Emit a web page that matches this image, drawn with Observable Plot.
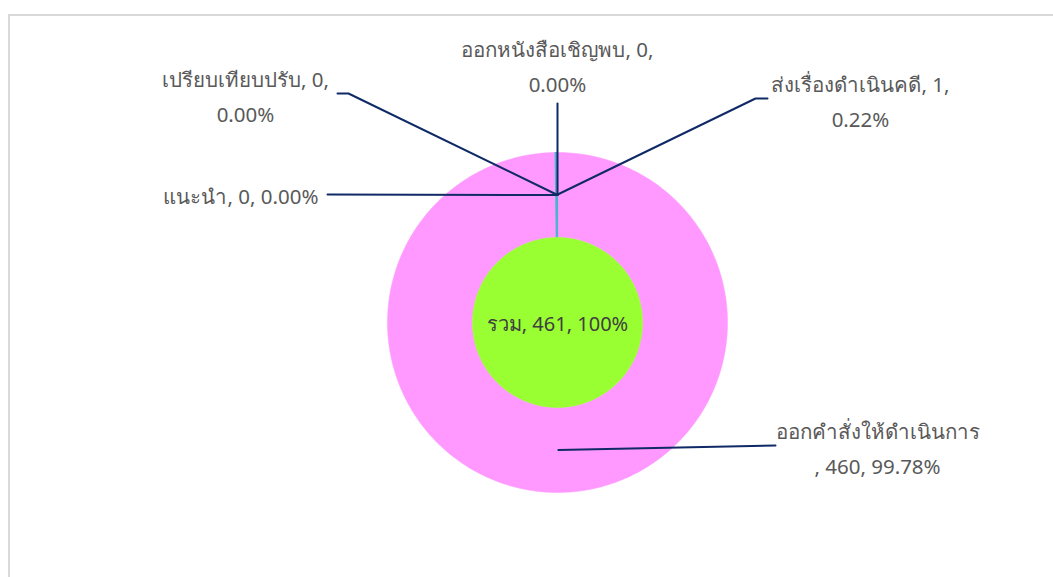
<!DOCTYPE html>
<html><head><meta charset="utf-8">
<script src="https://cdn.jsdelivr.net/npm/d3@7"></script>
<script src="https://cdn.jsdelivr.net/npm/@observablehq/plot@0.6"></script>
<style>
body{margin:0;background:#fff;}
#wrap{position:relative;width:1053px;height:577px;overflow:hidden;}
#border{position:absolute;left:8px;top:14px;width:1100px;height:600px;border-left:2px solid #d9d9d9;border-top:2px solid #d9d9d9;pointer-events:none;}
</style>
</head><body><div id="wrap"><div id="chart"></div><div id="border"></div></div>
<script>
// ---- data ----
const categories = ["ออกคำสั่งให้ดำเนินการ", "ส่งเรื่องดำเนินคดี", "เปรียบเทียบปรับ", "แนะนำ", "ออกหนังสือเชิญพบ"];
const values = [460, 1, 0, 0, 0];
const percents = ["99.78%", "0.22%", "0.00%", "0.00%", "0.00%"];
const totalLabel = "รวม";
const totalValue = 461;
const totalPercent = "100%";

// ---- styles / layout ----
const sliceColors = ["#FF99FF", "#4BB4CC", "#8064A2", "#F79646", "#4F81BD"];
const innerColor = "#99FF33";
const lineColor = "#0F2A66";
const textColor = "#595959";
const W = 1053, H = 577, CX = 557, CY = 322;
const R0 = 85, R1 = 170, RM = (R0 + R1) / 2;
// label layout per slice (pixel offsets relative to centre)
const labelLayout = [
  {wrap: "afterName", tx: 320, ty: 123, anchor: "middle", path: [[218, 123]]},
  {wrap: "beforePct", tx: 303, ty: -224, anchor: "middle", path: [[198, -224], [210, -224]]},
  {wrap: "beforePct", tx: -312, ty: -229, anchor: "middle", path: [[-209, -229], [-220, -229]]},
  {wrap: "none", tx: -239, ty: -130, anchor: "end", path: [[-230, -128]]},
  {wrap: "beforePct", tx: 0, ty: -259, anchor: "middle", path: [[0, -219]]}
];

const pie = d3.pie().sort(null).value(d => d)(values);

function arcPoly(a0, a1, r0, r1) {
  const n = Math.max(2, Math.ceil((a1 - a0) * 180 / Math.PI));
  const pts = [];
  for (let i = 0; i <= n; i++) { const a = a0 + (a1 - a0) * i / n; pts.push({x: r1 * Math.sin(a), y: -r1 * Math.cos(a)}); }
  for (let i = n; i >= 0; i--) { const a = a0 + (a1 - a0) * i / n; pts.push({x: r0 * Math.sin(a), y: -r0 * Math.cos(a)}); }
  return pts;
}

const marks = [];
pie.forEach((p, i) => {
  if (p.value <= 0) return;
  marks.push(Plot.line(arcPoly(p.startAngle, p.endAngle, R0, R1), {
    x: "x", y: "y", curve: "linear-closed", fill: sliceColors[i], stroke: sliceColors[i], strokeWidth: i === 1 ? 1.2 : 0.5
  }));
});
// inner total circle
marks.push(Plot.line(arcPoly(0, 2 * Math.PI, 0, R0), {x: "x", y: "y", curve: "linear-closed", fill: innerColor, stroke: innerColor, strokeWidth: 0.5}));

// leader lines
const leaders = [];
pie.forEach((p, i) => {
  const a = (p.startAngle + p.endAngle) / 2;
  leaders.push({k: i, x: RM * Math.sin(a), y: -RM * Math.cos(a)});
  labelLayout[i].path.forEach(([x, y]) => leaders.push({k: i, x, y}));
});
marks.push(Plot.line(leaders, {x: "x", y: "y", z: "k", stroke: lineColor, strokeWidth: 2}));

// labels
const labels = pie.map((p, i) => {
  const L = labelLayout[i];
  let t;
  if (L.wrap === "afterName") t = `${categories[i]}\n, ${values[i]}, ${percents[i]}`;
  else if (L.wrap === "beforePct") t = `${categories[i]}, ${values[i]},\n${percents[i]}`;
  else t = `${categories[i]}, ${values[i]}, ${percents[i]}`;
  return {t, x: L.tx, y: L.ty, anchor: L.anchor};
});
["middle", "end"].forEach(an => {
  marks.push(Plot.text(labels.filter(d => d.anchor === an), {x: "x", y: "y", text: "t", textAnchor: an, fill: textColor, fontSize: 20.5, lineHeight: 1.72}));
});
marks.push(Plot.text([{t: `${totalLabel}, ${totalValue}, ${totalPercent}`, x: 0, y: 2}], {x: "x", y: "y", text: "t", fill: "#404040", fontSize: 20}));

const chart = Plot.plot({
  width: W, height: H, margin: 0,
  x: {domain: [-CX, W - CX], range: [0, W], axis: null},
  y: {domain: [-CY, H - CY], range: [0, H], axis: null},
  style: {fontFamily: "'Noto Sans', sans-serif", background: "#fff"},
  marks
});
document.getElementById("chart").appendChild(chart);
</script>
</body></html>
